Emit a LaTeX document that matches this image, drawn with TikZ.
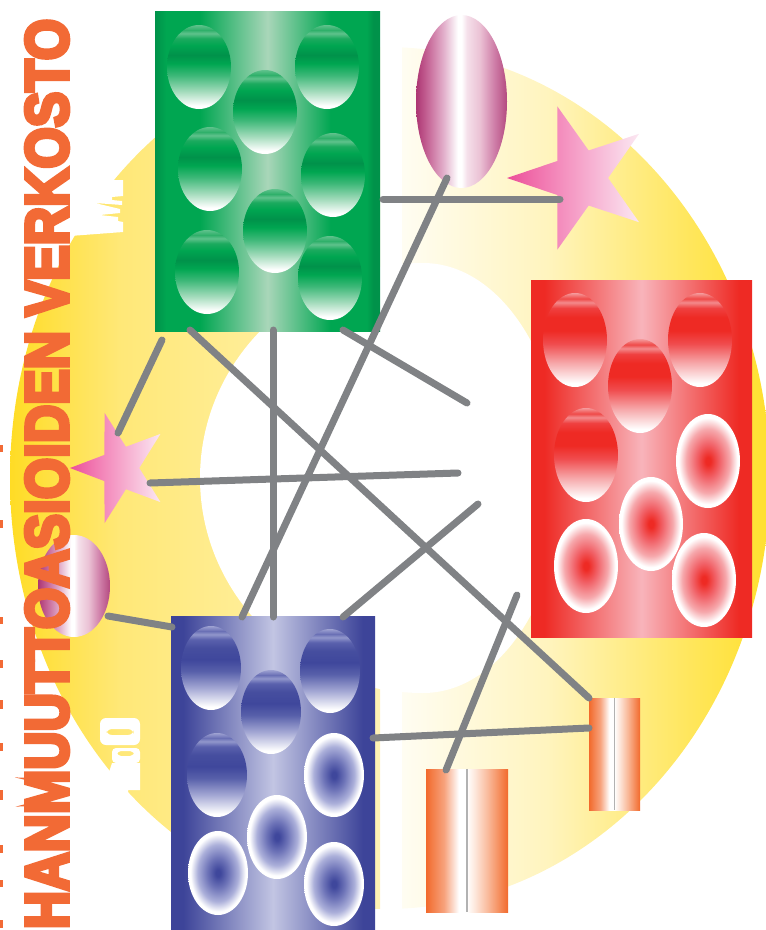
\documentclass[tikz,border=0pt]{standalone}
\usepackage{fontspec}
\usepackage{graphicx}
\usetikzlibrary{shapes.geometric}
\newfontfamily\titlefont{Liberation Sans}[FakeBold=7]

\definecolor{ylA}{HTML}{FFDC25}
\definecolor{ylB}{HTML}{FFE878}
\definecolor{ylC}{HTML}{FFF3B5}
\definecolor{yrA}{HTML}{FFFDF2}
\definecolor{yrB}{HTML}{FFF4BE}
\definecolor{yrC}{HTML}{FFE65A}
\definecolor{yrD}{HTML}{FFE030}
\definecolor{gA}{HTML}{00924A}
\definecolor{gB}{HTML}{00A651}
\definecolor{gC}{HTML}{A9D6B9}
\definecolor{rA}{HTML}{EE2A24}
\definecolor{rC}{HTML}{F8B4BB}
\definecolor{bA}{HTML}{3D4499}
\definecolor{bC}{HTML}{C2C5E3}
\definecolor{ttl}{HTML}{F26A35}
\definecolor{connc}{HTML}{808285}
\definecolor{oA}{HTML}{F26A2C}
\definecolor{oB}{HTML}{F7A27C}
\definecolor{oC}{HTML}{FDE6DA}
\definecolor{oD}{HTML}{F9B898}

\pgfdeclarehorizontalshading{yleft}{100bp}{color(0bp)=(ylA); color(25bp)=(ylA); color(40bp)=(ylB); color(75bp)=(ylC); color(100bp)=(ylC)}
\pgfdeclarehorizontalshading{yright}{100bp}{color(0bp)=(yrA); color(25bp)=(yrA); color(45bp)=(yrB); color(65bp)=(yrC); color(75bp)=(yrD); color(100bp)=(yrD)}
\pgfdeclarehorizontalshading{gboxsh}{100bp}{color(0bp)=(gA); color(25bp)=(gA); color(27.5bp)=(gB); color(35bp)=(gB); color(50bp)=(gC); color(64bp)=(gB); color(72bp)=(gB); color(73.5bp)=(gA); color(75bp)=(gA); color(100bp)=(gA)}
\pgfdeclarehorizontalshading{rboxsh}{100bp}{color(0bp)=(rA); color(25bp)=(rA); color(28bp)=(rA); color(50bp)=(rC); color(72bp)=(rA); color(75bp)=(rA); color(100bp)=(rA)}
\pgfdeclarehorizontalshading{bboxsh}{100bp}{color(0bp)=(bA); color(25bp)=(bA); color(28bp)=(bA); color(50bp)=(bC); color(72bp)=(bA); color(75bp)=(bA); color(100bp)=(bA)}
\pgfdeclareverticalshading{gstripe}{100bp}{color(0bp)=(white); color(25bp)=(white); color(27bp)=(white); color(35bp)=(rgb,255:red,168;green,221;blue,191); color(45bp)=(rgb,255:red,61;green,184;blue,120); color(52bp)=(gB); color(57bp)=(gA); color(63bp)=(gB); color(67bp)=(rgb,255:red,27;green,170;blue,94); color(70bp)=(rgb,255:red,95;green,194;blue,140); color(72bp)=(rgb,255:red,47;green,176;blue,106); color(75bp)=(rgb,255:red,95;green,194;blue,140); color(100bp)=(rgb,255:red,95;green,194;blue,140)}
\pgfdeclareverticalshading{rstripe}{100bp}{color(0bp)=(white); color(25bp)=(white); color(27bp)=(white); color(38bp)=(rgb,255:red,246;green,166;blue,168); color(48bp)=(rgb,255:red,240;green,76;blue,78); color(55bp)=(rA); color(62bp)=(rA); color(67bp)=(rgb,255:red,239;green,64;blue,64); color(70bp)=(rgb,255:red,243;green,138;blue,140); color(72bp)=(rgb,255:red,239;green,74;blue,72); color(75bp)=(rgb,255:red,245;green,154;blue,156); color(100bp)=(rgb,255:red,245;green,154;blue,156)}
\pgfdeclareverticalshading{bstripe}{100bp}{color(0bp)=(white); color(25bp)=(white); color(27bp)=(white); color(38bp)=(rgb,255:red,164;green,168;blue,212); color(48bp)=(rgb,255:red,88;green,96;blue,170); color(55bp)=(rgb,255:red,63;green,71;blue,156); color(62bp)=(rgb,255:red,70;green,78;blue,159); color(67bp)=(rgb,255:red,90;green,97;blue,173); color(70bp)=(rgb,255:red,146;green,151;blue,204); color(72bp)=(rgb,255:red,106;green,112;blue,181); color(75bp)=(rgb,255:red,158;green,162;blue,210); color(100bp)=(rgb,255:red,158;green,162;blue,210)}
\pgfdeclareradialshading{rpyr}{\pgfpoint{0bp}{0bp}}{color(0bp)=(rA); color(2bp)=(rA); color(9bp)=(rgb,255:red,241;green,98;blue,104); color(17bp)=(rgb,255:red,246;green,168;blue,172); color(23bp)=(white); color(50bp)=(white)}
\pgfdeclareradialshading{bpyr}{\pgfpoint{0bp}{0bp}}{color(0bp)=(rgb,255:red,63;green,71;blue,156); color(2bp)=(rgb,255:red,63;green,71;blue,156); color(9bp)=(rgb,255:red,110;green,116;blue,184); color(17bp)=(rgb,255:red,172;green,176;blue,218); color(23bp)=(white); color(50bp)=(white)}
\pgfdeclarehorizontalshading{magsh}{100bp}{color(0bp)=(rgb,255:red,173;green,53;blue,114); color(25bp)=(rgb,255:red,173;green,53;blue,114); color(32bp)=(rgb,255:red,200;green,106;blue,154); color(40bp)=(rgb,255:red,226;green,174;blue,202); color(48bp)=(white); color(50bp)=(white); color(53bp)=(rgb,255:red,245;green,224;blue,234); color(60bp)=(rgb,255:red,235;green,194;blue,213); color(68bp)=(rgb,255:red,207;green,126;blue,168); color(75bp)=(rgb,255:red,180;green,74;blue,128); color(100bp)=(rgb,255:red,180;green,74;blue,128)}
\pgfdeclarehorizontalshading{starsh}{100bp}{color(0bp)=(rgb,255:red,236;green,79;blue,153); color(25bp)=(rgb,255:red,236;green,79;blue,153); color(45bp)=(rgb,255:red,244;green,141;blue,189); color(75bp)=(rgb,255:red,251;green,232;blue,242); color(100bp)=(rgb,255:red,251;green,232;blue,242)}
\pgfdeclarehorizontalshading{orsh}{100bp}{color(0bp)=(oA); color(25bp)=(oA); color(36bp)=(oB); color(45bp)=(white); color(50bp)=(white); color(55bp)=(oC); color(63bp)=(oD); color(75bp)=(oA); color(100bp)=(oA)}

\begin{document}
\begin{tikzpicture}[x=1pt,y=-1pt,
  gbox/.style={rectangle, inner sep=0pt, shade, shading=gboxsh},
  rbox/.style={rectangle, inner sep=0pt, shade, shading=rboxsh},
  bbox/.style={rectangle, inner sep=0pt, shade, shading=bboxsh},
  gell/.style={ellipse, inner sep=0pt, minimum width=64pt, minimum height=84pt, shade, shading=gstripe},
  rell/.style={ellipse, inner sep=0pt, minimum width=64pt, minimum height=94pt, shade, shading=rstripe},
  rpy/.style={ellipse, inner sep=0pt, minimum width=64pt, minimum height=94pt, shade, shading=rpyr},
  bell/.style={ellipse, inner sep=0pt, minimum width=60pt, minimum height=84pt, shade, shading=bstripe},
  bpy/.style={ellipse, inner sep=0pt, minimum width=60pt, minimum height=84pt, shade, shading=bpyr},
  magell/.style={ellipse, inner sep=0pt, shade, shading=magsh},
  starsh5/.style={star, star points=5, star point ratio=2.6, shape border rotate=90, inner sep=0pt, shade, shading=starsh},
  orect/.style={rectangle, inner sep=0pt, shade, shading=orsh},
  ctrline/.style={draw=black!30, line width=1.2pt},
  conn/.style={draw=connc, line width=7pt, line cap=round},
  ttlsty/.style={rotate=90, inner sep=0pt, text=ttl, font=\titlefont\bfseries},
  sliver/.style={fill=ttl, draw=none}]
\useasboundingbox (0,0) rectangle (766,930);

% yellow ring
\begin{scope}
  \clip (385,478) ellipse [x radius=375, y radius=431];
  \shade[shading=yleft] (10,40) rectangle (380,915);
\end{scope}
\begin{scope}
  \clip (385,478) ellipse [x radius=385, y radius=431];
  \shade[shading=yright] (402,40) rectangle (766,915);
\end{scope}
% inner hole
\begin{scope}
  \clip (190,200) rectangle (423,760);
  \fill[white] (423,478) ellipse [x radius=223, y radius=215];
\end{scope}
\begin{scope}
  \clip (423,200) rectangle (700,760);
  \fill[white] (423,478) ellipse [x radius=140, y radius=215];
\end{scope}

% white fragments on the ring
\fill[white] (123,180) -- (123,196) -- (112,197) -- (112,200) -- (122,201) -- (122,205)
  -- (95,203) -- (120,209) -- (120,213) -- (100,215) -- (118,217) -- (118,221)
  -- (123,222) -- (123,232) -- (70,236) -- (70,180) -- cycle;
\fill[white, even odd rule, rounded corners=6pt] (100,718) rectangle (140,745) (106,729) rectangle (134,735);
\fill[white, even odd rule, rounded corners=4pt] (112,748) rectangle (140,763) (117,751) rectangle (134,756);
\fill[white] (112,763) -- (140,763) -- (140,790) -- (128,790) -- (128,800) -- (100,800) -- cycle;

% orange slivers at the left edge
\foreach \yy/\hh in {445/7,520/8,617/7,660/8,700/9,743/8,790/10,845/8,880/7,920/8}
  \fill[sliver] (0,\yy) rectangle (3,\yy+\hh);

% green box
\node[gbox, minimum width=225pt, minimum height=320pt] (green) at (267.5,171) {};
\node[gell] (g1) at (199,67) {};
\node[gell] (g2) at (327,67) {};
\node[gell] (g3) at (265,112) {};
\node[gell] (g4) at (210,169) {};
\node[gell] (g5) at (333,175) {};
\node[gell] (g6) at (275,231) {};
\node[gell] (g7) at (207,272) {};
\node[gell] (g8) at (330,278) {};

% red box
\node[rbox, minimum width=221pt, minimum height=357pt] (red) at (641.5,458.5) {};
\node[rell] (r1) at (575,340) {};
\node[rell] (r2) at (700,340) {};
\node[rell] (r3) at (640,386) {};
\node[rell] (r4) at (586,455) {};
\node[rpy] (r5) at (708,461) {};
\node[rpy] (r6) at (651,524) {};
\node[rpy] (r7) at (586,566) {};
\node[rpy] (r8) at (704,580) {};

% blue box
\node[bbox, minimum width=204pt, minimum height=320pt] (blue) at (273,776) {};
\node[bell] (b1) at (211,668) {};
\node[bell] (b2) at (330,671) {};
\node[bell] (b3) at (271,712) {};
\node[bell] (b4) at (217,775) {};
\node[bpy] (b5) at (334,775) {};
\node[bpy] (b6) at (277,837) {};
\node[bpy] (b7) at (218,873) {};
\node[bpy] (b8) at (334,884) {};

% magenta ellipses
\node[magell, minimum width=91pt, minimum height=173pt] (magT) at (461.5,101.5) {};
\node[magell, minimum width=72pt, minimum height=102pt] (magL) at (74,586) {};

% stars
\node[starsh5, minimum size=146pt, yscale=1.03] (starR) at (580,178) {};
\node[starsh5, minimum size=100pt, yscale=1.16] (starL) at (120,468) {};

% orange rectangles
\node[orect, minimum width=51pt, minimum height=112pt] (osmall) at (614.5,754) {};
\node[orect, minimum width=82pt, minimum height=143pt] (obig) at (467,840.5) {};
\draw[ctrline] (osmall.north) -- (osmall.south);
\draw[ctrline] (obig.north) -- (obig.south);

% title
\node[ttlsty] (title) at (47,474) {\resizebox{910pt}{42pt}{HANMUUTTOASIOIDEN VERKOSTO}};

% connector end points
\coordinate (c1a) at (190,330); \coordinate (c1b) at (589,698);
\coordinate (c2a) at (273,330); \coordinate (c2b) at (273,617);
\coordinate (c3a) at (343,330); \coordinate (c3b) at (467,403);
\coordinate (c4a) at (447,178); \coordinate (c4b) at (242,617);
\coordinate (c5a) at (383,199); \coordinate (c5b) at (560,199);
\coordinate (c6a) at (150,483); \coordinate (c6b) at (458,473);
\coordinate (c7a) at (118,433); \coordinate (c7b) at (162,340);
\coordinate (c8a) at (108,616); \coordinate (c8b) at (172,627);
\coordinate (c9a) at (343,617); \coordinate (c9b) at (478,504);
\coordinate (c10a) at (517,595); \coordinate (c10b) at (446,770);
\coordinate (c11a) at (373,738); \coordinate (c11b) at (589,728);

\draw[conn] (c1a) -- (c1b);
\draw[conn] (c2a) -- (c2b);
\draw[conn] (c3a) -- (c3b);
\draw[conn] (c4a) -- (c4b);
\draw[conn] (c5a) -- (c5b);
\draw[conn] (c6a) -- (c6b);
\draw[conn] (c7a) -- (c7b);
\draw[conn] (c8a) -- (c8b);
\draw[conn] (c9a) -- (c9b);
\draw[conn] (c10a) -- (c10b);
\draw[conn] (c11a) -- (c11b);
\end{tikzpicture}
\end{document}
